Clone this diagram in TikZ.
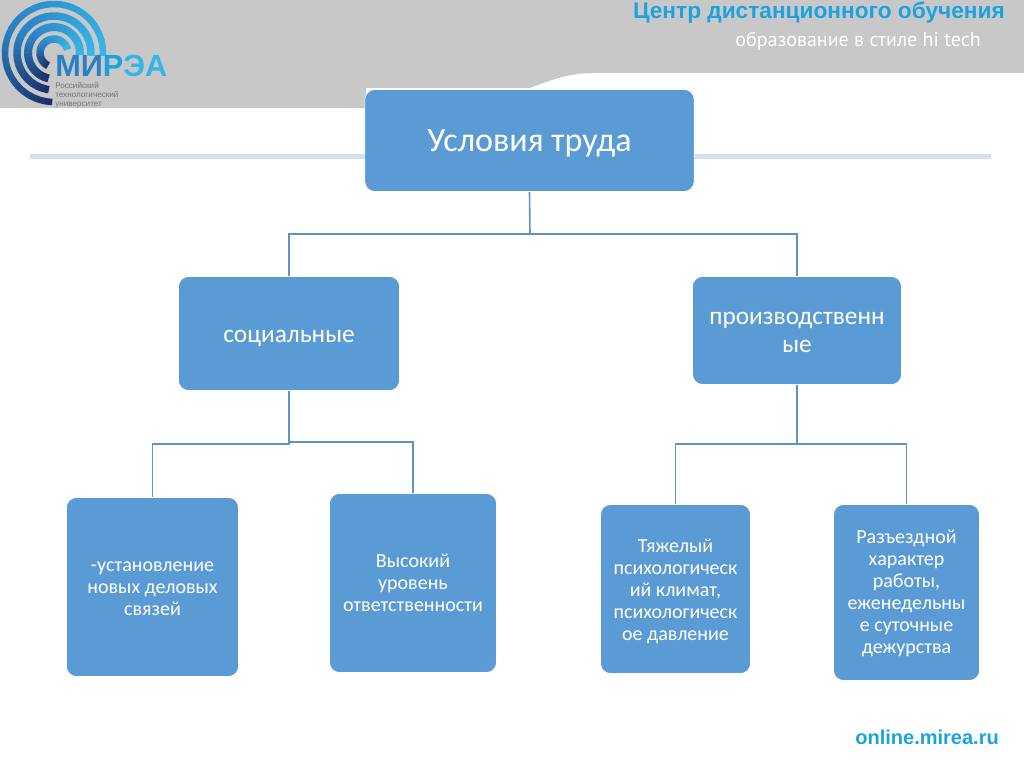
\documentclass[tikz,border=0pt]{standalone}
\usepackage{fontspec}
\setmainfont{Carlito}
\newfontfamily\hdfont{Liberation Sans}
\newfontfamily\subfont{PT Sans}
\definecolor{boxfill}{HTML}{5B9BD5}
\definecolor{linkc}{HTML}{5F93C7}
\definecolor{band}{HTML}{C8C8C8}
\definecolor{rule}{HTML}{D5DFEE}
\definecolor{headc}{HTML}{1CA3DF}
\definecolor{ringA}{HTML}{1B3168}
\definecolor{ringB}{HTML}{2A80C4}
\definecolor{ringC}{HTML}{35B6E6}
\newcommand{\dn}[1]{\rule{0pt}{#1pt}}
\tikzset{
  card/.style={rounded corners=7.5pt,fill=boxfill,draw=white,line width=0.5pt,text=white,align=center,anchor=center,inner sep=0pt,minimum width=#1},
  small card/.style={card=#1,font=\fontsize{15}{16.5}\selectfont},
  link/.style={draw=linkc,line width=1.2pt}
}
\begin{document}
\begin{tikzpicture}[x=0.75pt,y=-0.75pt]
\useasboundingbox (0,0) rectangle (1024,767);
\fill[white] (0,0) rectangle (1024,767);
% header band
\fill[band] (0,0) -- (1024,0) -- (1024,73) -- (593,73) .. controls (570,73) and (550,80) .. (530,88) -- (366,88) -- (366,108) -- (0,108) -- cycle;
% rules
\fill[rule] (30,154) rectangle (366,159);
\fill[rule] (694,154) rectangle (991,159);
% logo rings
\foreach \r/\w/\sa/\ea in {49/6.5/268/-2, 37/7.5/262/-3, 26/8/258/-3, 14/7.5/245/15}{
  \foreach \i in {0,...,29}{
    \pgfmathsetmacro{\aa}{\sa+(\ea-\sa)*\i/30}
    \pgfmathsetmacro{\bb}{\sa+(\ea-\sa)*(\i+1.15)/30}
    \pgfmathtruncatemacro{\mixa}{100*\i/12}
    \pgfmathtruncatemacro{\mixb}{100*(\i-12)/17}
    \ifnum\i<13 \colorlet{ringc}{ringB!\mixa!ringA}\else \colorlet{ringc}{ringC!\mixb!ringB}\fi
    \draw[draw=ringc,line width=\w*0.75pt] ({54+\r*cos(\aa)},{53+\r*sin(-\aa)}) arc[start angle=\aa,end angle=\bb,radius=\r*0.75pt];
  }
}
\node[anchor=west,inner sep=0pt,font=\hdfont\bfseries\fontsize{23}{24}\selectfont,text=headc] (logoname) at (55,66) {\textcolor{ringB}{МИ}\textcolor{headc}{Р}\textcolor{ringC}{ЭА}};
\node[anchor=north west,inner sep=0pt,align=left,text=black!55,font=\hdfont\fontsize{6.1}{6.8}\selectfont] (logosub) at (55,82) {Российский\\технологический\\университет};
\node[anchor=east,inner sep=0pt,font=\hdfont\bfseries\fontsize{17}{20}\selectfont,text=headc] (title) at (1005,13) {Центр дистанционного обучения};
\node[anchor=east,inner sep=0pt,font=\subfont\fontsize{15}{18}\selectfont,text=white] (subtitle) at (981,41) {образование в стиле hi tech};
\node[anchor=east,inner sep=0pt,font=\hdfont\bfseries\fontsize{15}{18}\selectfont,text=headc] (site) at (999,737) {online.mirea.ru};
% boxes
\node[card=247pt,minimum height=76.5pt,font=\fontsize{25.5}{30}\selectfont] (top) at (529.5,140.5) {\dn{20.5}Условия труда};
\node[card=165.75pt,minimum height=85.5pt,font=\fontsize{19}{21}\selectfont] (soc) at (289,333.5) {\dn{16}социальные};
\node[card=156.75pt,minimum height=81pt,font=\fontsize{19}{21}\selectfont] (prod) at (797,330.5) {\dn{12}производственн\\ые};
\node[small card=129pt,minimum height=134.25pt] (a) at (152.5,587) {\dn{9.5}-установление\\новых деловых\\связей};
\node[small card=125.25pt,minimum height=134.25pt] (b) at (413,583) {\dn{10}Высокий\\уровень\\ответственности};
\node[small card=112.5pt,minimum height=126.75pt] (c) at (675.5,589) {\dn{14}Тяжелый\\психологическ\\ий климат,\\психологическ\\ое давление};
\node[small card=109.5pt,minimum height=132pt] (d) at (906.5,592.5) {\dn{12}Разъездной\\характер\\работы,\\еженедельны\\е суточные\\дежурства};
% connectors
\coordinate (j0) at (530,234);
\coordinate (j1) at (289,444);
\coordinate (j2) at (289,442);
\coordinate (j3) at (797,444);
\draw[link] (top.south) -- (j0) -| (soc.north);
\draw[link] (j0) -| (prod.north);
\draw[link] (soc.south) -- (j1) -| (a.north);
\draw[link] (j2) -| (b.north);
\draw[link] (prod.south) -- (j3) -| (c.north);
\draw[link] (j3) -| (d.north);
\end{tikzpicture}
\end{document}
